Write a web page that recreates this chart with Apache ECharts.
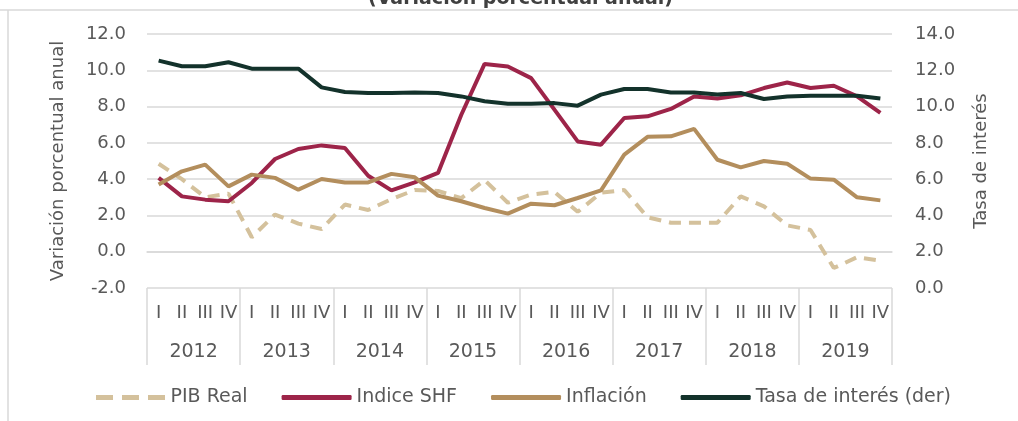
<!DOCTYPE html>
<html>
<head>
<meta charset="utf-8">
<script src="https://cdn.jsdelivr.net/npm/echarts@6/dist/echarts.min.js"></script>
<style>
html, body {margin:0; padding:0; background:#fff;}
#chart {width:1018px; height:421px;}
</style>
</head>
<body>
<div id="chart"></div>
<script>
var years = ['2012', '2013', '2014', '2015', '2016', '2017', '2018', '2019']
var quarterNames = ['I', 'II', 'III', 'IV']
var pibReal = [4.85, 4.0, 3.0, 3.2, 0.8, 2.05, 1.55, 1.25, 2.6, 2.3, 2.9, 3.4, 3.35, 2.95, 3.95, 2.7,
    3.15, 3.3, 2.2, 3.25, 3.4, 1.9, 1.6, 1.6, 1.6, 3.05, 2.5, 1.45, 1.2, -0.9, -0.3, -0.5]
var indiceSHF = [4.07, 3.05, 2.87, 2.78, 3.79, 5.11, 5.66, 5.86, 5.72, 4.19, 3.38, 3.82, 4.34, 7.55, 10.35, 10.21,
    9.57, 7.83, 6.08, 5.9, 7.37, 7.46, 7.87, 8.56, 8.44, 8.62, 9.02, 9.33, 9.02, 9.15, 8.56, 7.65]
var inflacion = [3.7, 4.43, 4.8, 3.6, 4.25, 4.07, 3.42, 4.01, 3.82, 3.82, 4.29, 4.1, 3.09, 2.78, 2.41, 2.1,
    2.65, 2.56, 2.96, 3.38, 5.35, 6.33, 6.36, 6.77, 5.07, 4.65, 5.0, 4.85, 4.03, 3.97, 3.0, 2.83]
var tasaInteres = [12.53, 12.22, 12.22, 12.44, 12.09, 12.09, 12.09, 11.06, 10.8, 10.75, 10.75, 10.77, 10.75, 10.56, 10.29, 10.16,
    10.16, 10.19, 10.05, 10.66, 10.97, 10.97, 10.78, 10.78, 10.66, 10.75, 10.42, 10.56, 10.6, 10.6, 10.6, 10.44]

var quarters = []
for (var y of years){
    for (var q of quarterNames){
        quarters.push(q)
    }
}

var font = 'DejaVu Sans'
var txt = '#595959'
var gridCol = '#d9d9d9'
// three short dashes for the PIB legend key
var dashIcon = 'path://M0,0h17v5h-17z M26,0h17v5h-17z M52,0h17v5h-17z'

function fmt(v){
    return v.toFixed(1)
}

var option = {
    animation: false,
    title: {
        text: '(Variación porcentual anual)',
        left: 363,
        top: -15,
        textStyle: {fontFamily: font, fontSize: 19, fontWeight: 'bold', color: '#404040'}
    },
    graphic: [
        {type: 'line', shape: {x1: 0, y1: 10, x2: 1018, y2: 10}, style: {stroke: gridCol, lineWidth: 1.5}},
        {type: 'line', shape: {x1: 8, y1: 10, x2: 8, y2: 421}, style: {stroke: gridCol, lineWidth: 1.5}}
    ],
    grid: {left: 147, right: 126, top: 34, bottom: 133},
    legend: {
        left: 91,
        top: 383,
        itemWidth: 70,
        itemHeight: 5,
        itemGap: 34,
        textStyle: {fontFamily: font, fontSize: 19, color: txt},
        data: [
            {name: 'PIB Real', icon: dashIcon},
            {name: 'Indice SHF', icon: 'roundRect'},
            {name: 'Inflación', icon: 'roundRect'},
            {name: 'Tasa de interés (der)', icon: 'roundRect'}
        ]
    },
    xAxis: [{
        type: 'category',
        data: quarters,
        position: 'bottom',
        axisLine: {show: true, lineStyle: {color: gridCol, width: 1.5}},
        axisTick: {show: false},
        axisLabel: {interval: 0, margin: 16, fontFamily: font, fontSize: 18, color: txt}
    }, {
        type: 'category',
        data: years,
        position: 'bottom',
        axisLine: {show: false},
        axisTick: {show: true, interval: 0, length: 77, lineStyle: {color: gridCol, width: 1.5}},
        axisLabel: {interval: 0, margin: 55, fontFamily: font, fontSize: 19, color: txt}
    }],
    yAxis: [{
        type: 'value',
        min: -2,
        max: 12,
        interval: 2,
        name: 'Variación porcentual anual',
        nameLocation: 'middle',
        nameRotate: 90,
        nameGap: 80,
        nameTextStyle: {fontFamily: font, fontSize: 18, color: txt},
        axisLine: {show: false},
        axisTick: {show: false},
        axisLabel: {margin: 21, formatter: fmt, fontFamily: font, fontSize: 18, color: txt},
        splitLine: {lineStyle: {color: gridCol, width: 1.5}}
    }, {
        type: 'value',
        min: 0,
        max: 14,
        interval: 2,
        name: 'Tasa de interés',
        nameLocation: 'middle',
        nameRotate: 90,
        nameGap: 80,
        nameTextStyle: {fontFamily: font, fontSize: 18, color: txt},
        axisLine: {show: false},
        axisTick: {show: false},
        axisLabel: {margin: 23, formatter: fmt, fontFamily: font, fontSize: 18, color: txt},
        splitLine: {show: false}
    }],
    series: [{
        name: 'PIB Real',
        type: 'line',
        data: pibReal,
        symbol: 'none',
        color: '#d4c19c',
        lineStyle: {width: 4, type: [12, 8], color: '#d4c19c'}
    }, {
        name: 'Indice SHF',
        type: 'line',
        data: indiceSHF,
        symbol: 'none',
        color: '#9d2449',
        lineStyle: {width: 4, color: '#9d2449'}
    }, {
        name: 'Inflación',
        type: 'line',
        data: inflacion,
        symbol: 'none',
        color: '#b38e5d',
        lineStyle: {width: 4, color: '#b38e5d'}
    }, {
        name: 'Tasa de interés (der)',
        type: 'line',
        yAxisIndex: 1,
        data: tasaInteres,
        symbol: 'none',
        color: '#13322b',
        lineStyle: {width: 4, color: '#13322b'}
    }]
}

var myChart = echarts.init(document.getElementById('chart'))
myChart.setOption(option)
</script>
</body>
</html>
